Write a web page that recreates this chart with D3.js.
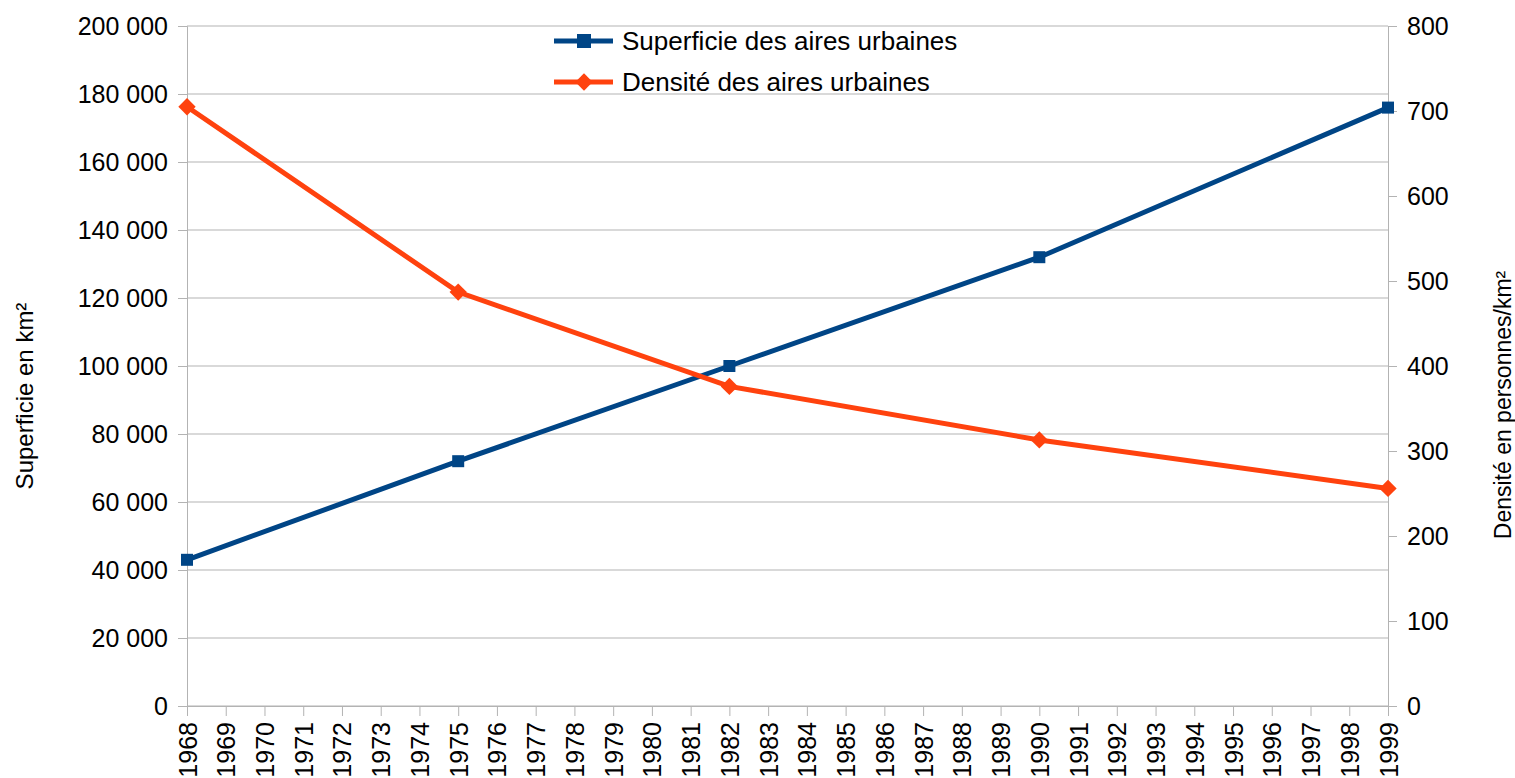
<!DOCTYPE html>
<html>
<head>
<meta charset="utf-8">
<script src="https://cdn.jsdelivr.net/npm/d3@7"></script>
<style>
  body { margin: 0; background: #fff; }
  text { font-family: "Liberation Sans", Arial, sans-serif; fill: #000; }
</style>
</head>
<body>
<div class="chart"></div>
<script>
const years = d3.range(1968, 2000);
const dataYears = [1968, 1975, 1982, 1990, 1999];
const superficie = [43000, 72000, 100000, 132000, 176000];
const densite = [705, 487, 376, 313, 256];
const leftTicks = d3.range(0, 200001, 20000);
const rightTicks = d3.range(0, 801, 100);
const seriesNames = ["Superficie des aires urbaines", "Densité des aires urbaines"];

let margin = {top: 26, bottom: 72, left: 187, right: 127};
const width = 1515 - margin.left - margin.right,
  height = 778 - margin.top - margin.bottom;

const svg = d3.select(".chart").append("svg")
  .attr("width", 1515)
  .attr("height", 778)
  .append("g")
  .attr("transform", "translate(" + margin.left + "," + margin.top + ")");

let xScale = d3.scaleLinear().domain([1968, 1999]).range([0, width]);
let yLeft = d3.scaleLinear().domain([0, 200000]).range([height, 0]);
let yRight = d3.scaleLinear().domain([0, 800]).range([height, 0]);

const fmt = d => d3.format(",")(d).replace(/,/g, " ");

// grid
svg.append("g")
  .selectAll("line")
  .data(leftTicks)
  .enter().append("line")
  .attr("x1", 0).attr("x2", width)
  .attr("y1", d => yLeft(d)).attr("y2", d => yLeft(d))
  .attr("stroke", "#b3b3b3")
  .attr("stroke-width", 1);

let yAxisL = d3.axisLeft(yLeft).tickValues(leftTicks).tickFormat(fmt).tickSize(9).tickPadding(10);
let yAxisR = d3.axisRight(yRight).tickValues(rightTicks).tickSize(9).tickPadding(10);
let xAxis = d3.axisBottom(xScale).tickValues(years).tickFormat(d3.format("d")).tickSize(10).tickPadding(5);

function styleAxis(g) {
  g.selectAll(".domain, .tick line").attr("stroke", "#b3b3b3");
  g.selectAll("text").attr("font-size", "25px").attr("fill", "#000");
}

svg.append("g").attr("class", "axis y-axis").call(yAxisL).call(styleAxis);
svg.append("g").attr("class", "axis y-axis-right")
  .attr("transform", `translate(${width},0)`)
  .call(yAxisR).call(styleAxis);
svg.append("g").attr("class", "axis x-axis")
  .attr("transform", `translate(0,${height})`)
  .call(xAxis).call(styleAxis)
  .call(g => g.selectAll(".tick text")
    .attr("transform", "rotate(-90)")
    .attr("text-anchor", "end")
    .attr("x", -16)
    .attr("y", 0)
    .attr("dy", "0.36em"));

// axis titles
svg.append("text")
  .attr("transform", `translate(${-154},${height / 2 + 30}) rotate(-90)`)
  .attr("text-anchor", "middle")
  .attr("font-size", "24px")
  .text("Superficie en km²");
svg.append("text")
  .attr("transform", `translate(${width + 123},${height / 2 + 39}) rotate(-90)`)
  .attr("text-anchor", "middle")
  .attr("font-size", "23px")
  .text("Densité en personnes/km²");

// lines
const blue = "#004586", orange = "#ff420e";
const lineL = d3.line().x((d, i) => xScale(dataYears[i])).y(d => yLeft(d));
const lineR = d3.line().x((d, i) => xScale(dataYears[i])).y(d => yRight(d));

svg.append("path").datum(superficie).attr("d", lineL)
  .attr("fill", "none").attr("stroke", blue).attr("stroke-width", 5);
svg.append("path").datum(densite).attr("d", lineR)
  .attr("fill", "none").attr("stroke", orange).attr("stroke-width", 5);

svg.selectAll(".sq").data(superficie).enter().append("rect")
  .attr("class", "sq")
  .attr("x", (d, i) => xScale(dataYears[i]) - 6)
  .attr("y", d => yLeft(d) - 6)
  .attr("width", 12).attr("height", 12)
  .attr("fill", blue);

const diamond = d3.symbol().type(d3.symbolSquare).size(150);
svg.selectAll(".dm").data(densite).enter().append("path")
  .attr("class", "dm")
  .attr("d", diamond)
  .attr("transform", (d, i) => `translate(${xScale(dataYears[i])},${yRight(d)}) rotate(45)`)
  .attr("fill", orange);

// legend
const legend = svg.append("g").attr("transform", "translate(367,15)");
seriesNames.forEach((name, i) => {
  const g = legend.append("g").attr("transform", `translate(0,${i * 41})`);
  const c = i === 0 ? blue : orange;
  g.append("line").attr("x1", 0).attr("x2", 59).attr("y1", 0).attr("y2", 0)
    .attr("stroke", c).attr("stroke-width", 5);
  if (i === 0) {
    g.append("rect").attr("x", 23).attr("y", -7).attr("width", 14).attr("height", 14).attr("fill", c);
  } else {
    g.append("path").attr("d", d3.symbol().type(d3.symbolSquare).size(150))
      .attr("transform", "translate(30,0) rotate(45)").attr("fill", c);
  }
  g.append("text").attr("x", 68).attr("y", 0).attr("dy", "0.36em")
    .attr("font-size", "26px").text(name);
});
</script>
</body>
</html>
